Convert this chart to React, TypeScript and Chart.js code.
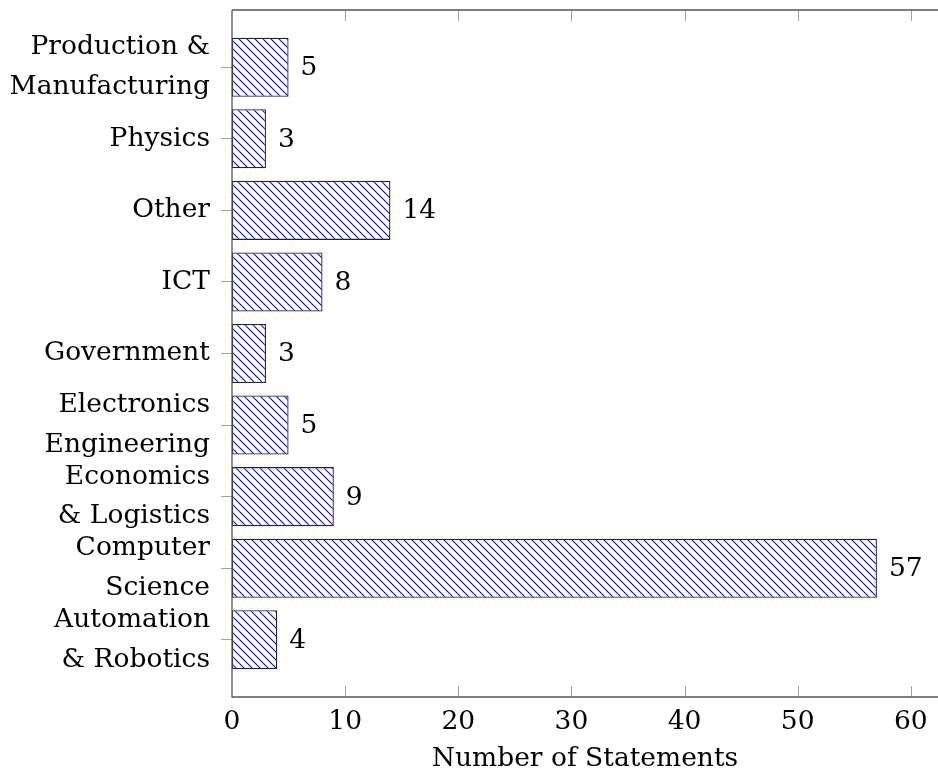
import React, { useEffect, useRef } from "react";
import { Chart, registerables } from "chart.js";

Chart.register(...registerables);

// Categories bottom -> top
const categories: string[][] = [
  ["Automation", "& Robotics"],
  ["Computer", "Science"],
  ["Economics", "& Logistics"],
  ["Electronics", "Engineering"],
  ["Government"],
  ["ICT"],
  ["Other"],
  ["Physics"],
  ["Production &", "Manufacturing"],
];
const statements: number[] = [4, 57, 9, 5, 3, 8, 14, 3, 5];
const xTickValues: number[] = [0, 10, 20, 30, 40, 50, 60];
const xTitle = "Number of Statements";

const FONT = "'DejaVu Serif', serif";
const FS = 26.5;

function makeHatch(): CanvasPattern | string {
  const size = 24;
  const c = document.createElement("canvas");
  c.width = size;
  c.height = size;
  const g = c.getContext("2d");
  if (!g) return "#fff";
  g.fillStyle = "#ffffff";
  g.fillRect(0, 0, size, size);
  g.strokeStyle = "#0000ff";
  g.lineWidth = 1.1;
  const step = size / 3;
  for (let k = -6; k <= 6; k++) {
    const cOff = k * step;
    g.beginPath();
    g.moveTo(cOff - size, -size);
    g.lineTo(cOff + 2 * size, 2 * size);
    g.stroke();
  }
  const ctx = document.createElement("canvas").getContext("2d");
  const p = ctx ? ctx.createPattern(c, "repeat") : null;
  return p || "#fff";
}

export default function App() {
  const ref = useRef<HTMLCanvasElement | null>(null);

  useEffect(() => {
    if (!ref.current) return;
    const hatch = makeHatch();

    const framePlugin = {
      id: "frame",
      afterDatasetsDraw(chart: any) {
        const { ctx, chartArea } = chart;
        const { left, right, top, bottom } = chartArea;
        const xs = chart.scales.x;
        ctx.save();
        // inward x ticks
        ctx.strokeStyle = "#a0a0a0";
        ctx.lineWidth = 1;
        xTickValues.forEach((v) => {
          const px = Math.round(xs.getPixelForValue(v)) + 0.5;
          if (v === 0) return;
          ctx.beginPath();
          ctx.moveTo(px, top);
          ctx.lineTo(px, top + 11);
          ctx.moveTo(px, bottom);
          ctx.lineTo(px, bottom - 11);
          ctx.stroke();
        });
        // frame lines
        ctx.strokeStyle = "#555555";
        ctx.lineWidth = 1.3;
        ctx.beginPath();
        ctx.moveTo(left, top);
        ctx.lineTo(right + 2, top);
        ctx.moveTo(left, top);
        ctx.lineTo(left, bottom);
        ctx.lineTo(right + 2, bottom);
        ctx.stroke();
        // value labels
        ctx.fillStyle = "#000";
        ctx.font = `${FS}px ${FONT}`;
        ctx.textAlign = "left";
        ctx.textBaseline = "middle";
        const meta = chart.getDatasetMeta(0);
        meta.data.forEach((bar: any, i: number) => {
          ctx.fillText(String(statements[i]), bar.x + 12, bar.y + 1);
        });
        // axis title
        ctx.textAlign = "center";
        ctx.fillText(xTitle, (left + right) / 2, 759);
        ctx.restore();
      },
    };

    const chart = new Chart(ref.current, {
      type: "bar",
      data: {
        datasets: [
          {
            data: statements.map((v, i) => ({ x: v, y: i })),
            backgroundColor: hatch as any,
            borderColor: "#222222",
            borderWidth: 1.3,
            borderSkipped: false,
            categoryPercentage: 1,
            barPercentage: 0.825,
          },
        ],
      },
      options: {
        indexAxis: "y",
        responsive: false,
        animation: false,
        layout: { padding: { top: 10, right: 0, bottom: 0, left: 0 } },
        plugins: {
          legend: { display: false },
          tooltip: { enabled: false },
        },
        scales: {
          x: {
            type: "linear",
            min: 0,
            max: 62.4,
            offset: false,
            grid: { display: false },
            border: { display: false },
            ticks: {
              stepSize: 10,
              includeBounds: false,
              autoSkip: false,
              padding: 1,
              color: "#000",
              font: { family: FONT, size: FS, lineHeight: 1.2 },
              maxRotation: 0,
            },
            afterBuildTicks: (scale: any) => {
              scale.ticks = xTickValues.map((v) => ({ value: v }));
            },
            afterFit: (scale: any) => {
              scale.height = 78;
              scale.paddingLeft = 0;
              scale.paddingRight = 0;
            },
          },
          y: {
            type: "linear",
            min: -0.8,
            max: 8.8,
            offset: false,
            grid: {
              display: true,
              offset: false,
              drawOnChartArea: false,
              drawTicks: true,
              tickLength: 11,
              color: "#a0a0a0",
              lineWidth: 1,
            },
            border: { display: false },
            ticks: {
              padding: 11,
              autoSkip: false,
              color: "#000",
              font: { family: FONT, size: FS, lineHeight: 1.5 },
              callback: (v: any) => categories[Number(v)] as any,
            },
            afterBuildTicks: (scale: any) => {
              scale.ticks = categories.map((_, i) => ({ value: i }));
            },
            afterFit: (scale: any) => {
              scale.width = 232;
              scale.paddingTop = 0;
              scale.paddingBottom = 0;
            },
          },
        },
      },
      plugins: [framePlugin],
    });
    return () => chart.destroy();
  }, []);

  return (
    <div style={{ position: "absolute", left: 0, top: 0, width: 938, height: 775, background: "#fff" }}>
      <canvas ref={ref} width={938} height={775} style={{ display: "block" }} />
    </div>
  );
}
